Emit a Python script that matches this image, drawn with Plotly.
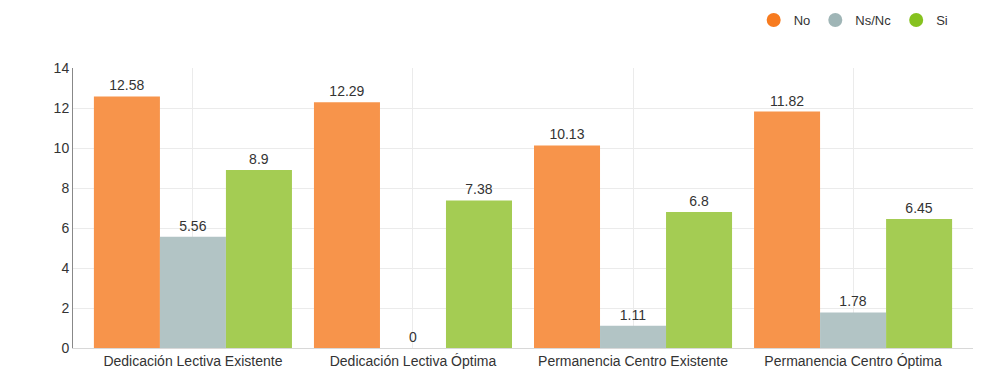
import plotly.graph_objects as go

categorias = ['Dedicación Lectiva Existente', 'Dedicación Lectiva Óptima',
              'Permanencia Centro Existente', 'Permanencia Centro Óptima']
valores_no = [12.58, 12.29, 10.13, 11.82]
valores_nsnc = [5.56, 0, 1.11, 1.78]
valores_si = [8.9, 7.38, 6.8, 6.45]

series = [
    ('No', valores_no, '#F7944B', '#F77B1F'),
    ('Ns/Nc', valores_nsnc, '#B2C4C5', '#9FB5B6'),
    ('Si', valores_si, '#A4CC53', '#86C21F'),
]

fig = go.Figure()
for nombre, valores, color_barra, color_leyenda in series:
    fig.add_trace(go.Bar(
        x=categorias,
        y=valores,
        name=nombre,
        marker=dict(color=color_barra, line=dict(width=0)),
        text=[f'{v:g}' for v in valores],
        textposition='outside',
        textfont=dict(size=14, color='#333333'),
        cliponaxis=False,
        showlegend=False,
        hoverinfo='name+y'
    ))
    # trazas solo para la leyenda con marcador circular
    fig.add_trace(go.Scatter(
        x=[None], y=[None],
        mode='markers',
        name=nombre,
        marker=dict(color=color_leyenda, size=14, symbol='circle'),
        showlegend=True
    ))

# la pagina deja 8px de margen en el body, se compensa aqui
fig.update_layout(
    barmode='group',
    bargap=0.1,
    bargroupgap=0,
    width=982,
    height=391,
    margin=dict(l=65, r=17, t=60, b=51, autoexpand=False),
    paper_bgcolor='white',
    plot_bgcolor='white',
    font=dict(family='Liberation Sans, Arial, sans-serif', size=14, color='#333333'),
    legend=dict(
        orientation='h',
        xref='container', yref='container',
        x=0.963, xanchor='right',
        y=0.969, yanchor='middle',
        font=dict(size=13, color='#333333'),
        itemwidth=30,
        tracegroupgap=0
    ),
    xaxis=dict(
        range=[-0.545, 3.545],
        showgrid=True,
        gridcolor='#EBEBEB',
        showline=True,
        linecolor='#D8D8D8',
        ticks='',
        tickfont=dict(size=14, color='#333333')
    ),
    yaxis=dict(
        range=[0, 14],
        dtick=2,
        showgrid=True,
        gridcolor='#EBEBEB',
        showline=True,
        linecolor='#888888',
        linewidth=1,
        ticks='',
        zeroline=False,
        tickfont=dict(size=14, color='#333333')
    )
)

fig.write_html("out.html")
